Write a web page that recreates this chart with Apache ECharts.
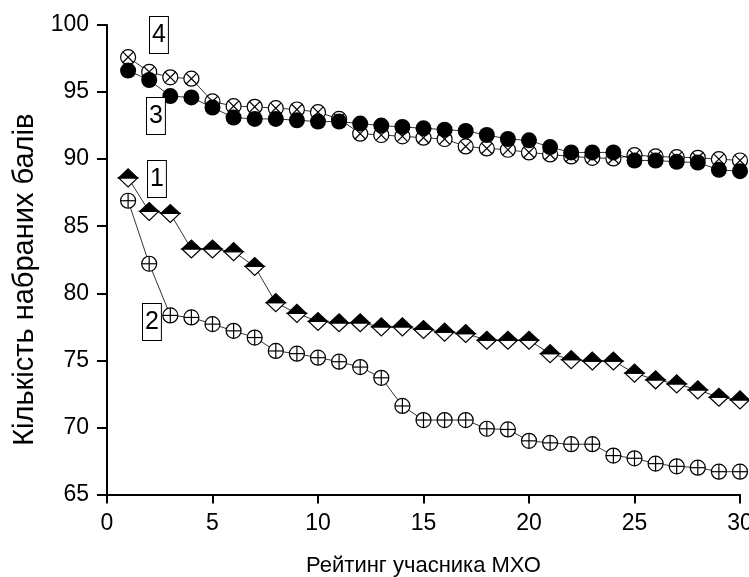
<!DOCTYPE html>
<html>
<head>
<meta charset="utf-8">
<script src="https://cdn.jsdelivr.net/npm/echarts@6/dist/echarts.min.js"></script>
<style>
  html, body { margin: 0; padding: 0; background: #fff; }
  #chart { width: 749px; height: 577px; }
</style>
</head>
<body>
<div id="chart"></div>
<script type="text/javascript">
  // ranks of participants (x axis)
  var ranks = [];
  for (var i = 1; i <= 30; i++) ranks.push(i);

  var xTicks = [0, 5, 10, 15, 20, 25, 30];
  var yTicks = [65, 70, 75, 80, 85, 90, 95, 100];

  // curve 1 - half filled diamonds
  var curve1 = [88.6, 86.1, 85.95, 83.3, 83.3, 83.1, 82.0, 79.3, 78.5, 77.9,
    77.8, 77.8, 77.5, 77.5, 77.3, 77.1, 77.0, 76.5, 76.5, 76.5,
    75.5, 75.05, 74.95, 74.95, 74.05, 73.55, 73.25, 72.8, 72.25, 72.05];
  // curve 2 - circles with plus
  var curve2 = [86.9, 82.2, 78.35, 78.2, 77.7, 77.2, 76.7, 75.7, 75.5, 75.2,
    74.9, 74.5, 73.7, 71.6, 70.55, 70.55, 70.55, 69.9, 69.85, 69.0,
    68.85, 68.75, 68.75, 67.9, 67.7, 67.3, 67.1, 67.0, 66.7, 66.7];
  // curve 3 - filled circles
  var curve3 = [96.6, 95.9, 94.7, 94.6, 93.85, 93.1, 93.0, 93.0, 92.9, 92.8,
    92.8, 92.65, 92.5, 92.4, 92.3, 92.2, 92.1, 91.8, 91.5, 91.4,
    90.9, 90.5, 90.5, 90.5, 89.9, 89.9, 89.8, 89.75, 89.2, 89.1];
  // curve 4 - circles with cross
  var curve4 = [97.6, 96.5, 96.1, 96.0, 94.3, 93.95, 93.9, 93.8, 93.7, 93.5,
    93.0, 91.9, 91.8, 91.7, 91.6, 91.5, 90.95, 90.8, 90.7, 90.5,
    90.35, 90.2, 90.1, 90.05, 90.3, 90.2, 90.15, 90.1, 90.0, 89.9];

  var FONT = '"Liberation Sans", Arial, sans-serif';

  function pairs(vals) {
    return ranks.map(function (r, k) { return [r, vals[k]]; });
  }

  function lineSeries(vals) {
    return {
      type: 'line',
      data: pairs(vals),
      symbol: 'none',
      lineStyle: { color: '#000', width: 0.8 },
      z: 1,
      silent: true
    };
  }

  var stroke = { stroke: '#000', lineWidth: 1.2 };

  function markerSeries(vals, kind) {
    return {
      type: 'custom',
      data: pairs(vals),
      encode: { x: 0, y: 1 },
      clip: false,
      z: 3,
      silent: true,
      renderItem: function (params, api) {
        var p = api.coord([api.value(0), api.value(1)]);
        var cx = p[0], cy = p[1];
        var r = 7.5, d = r * 0.707, h = 9.5, v = 9;
        if (kind === 'filled') {
          return { type: 'circle', shape: { cx: cx, cy: cy, r: 8 }, style: { fill: '#000' } };
        }
        if (kind === 'cross') {
          return {
            type: 'group',
            children: [
              { type: 'circle', shape: { cx: cx, cy: cy, r: r }, style: { fill: '#fff', stroke: '#000', lineWidth: 1.2 } },
              { type: 'line', shape: { x1: cx - d, y1: cy - d, x2: cx + d, y2: cy + d }, style: stroke },
              { type: 'line', shape: { x1: cx - d, y1: cy + d, x2: cx + d, y2: cy - d }, style: stroke }
            ]
          };
        }
        if (kind === 'plus') {
          return {
            type: 'group',
            children: [
              { type: 'circle', shape: { cx: cx, cy: cy, r: r }, style: { fill: '#fff', stroke: '#000', lineWidth: 1.2 } },
              { type: 'line', shape: { x1: cx - r, y1: cy, x2: cx + r, y2: cy }, style: stroke },
              { type: 'line', shape: { x1: cx, y1: cy - r, x2: cx, y2: cy + r }, style: stroke }
            ]
          };
        }
        // half filled diamond
        return {
          type: 'group',
          children: [
            { type: 'polygon', shape: { points: [[cx - h, cy], [cx + h, cy], [cx, cy + v]] }, style: { fill: '#fff', stroke: '#000', lineWidth: 1.2 } },
            { type: 'polygon', shape: { points: [[cx - h, cy], [cx, cy - v], [cx + h, cy]] }, style: { fill: '#000', stroke: '#000', lineWidth: 1.2 } }
          ]
        };
      }
    };
  }

  function boxLabel(txt, left, top) {
    return {
      type: 'text',
      left: left,
      top: top,
      z: 10,
      style: {
        text: txt,
        font: '25px ' + FONT,
        fill: '#000',
        lineHeight: 29,
        backgroundColor: '#fff',
        borderColor: '#000',
        borderWidth: 1,
        padding: [4, 2, 3, 2]
      }
    };
  }

  var myChart = echarts.init(document.getElementById('chart'), null, { renderer: 'canvas' });

  var option = {
    backgroundColor: '#fff',
    animation: false,
    grid: { left: 107, right: 9, top: 25, bottom: 82.5, containLabel: false, outerBoundsMode: 'none' },
    xAxis: {
      type: 'value',
      min: xTicks[0],
      max: xTicks[xTicks.length - 1],
      interval: 5,
      name: 'Рейтинг учасника МХО',
      nameLocation: 'middle',
      nameGap: 60,
      nameTextStyle: { fontFamily: FONT, fontSize: 22, color: '#000' },
      axisLine: { show: true, onZero: false, lineStyle: { color: '#000', width: 2 } },
      axisTick: { show: true, inside: false, length: 9, lineStyle: { color: '#000', width: 2 } },
      axisLabel: { fontFamily: FONT, fontSize: 23, color: '#000', margin: 18 },
      splitLine: { show: false }
    },
    yAxis: {
      type: 'value',
      min: yTicks[0],
      max: yTicks[yTicks.length - 1],
      interval: 5,
      name: 'Кількість набраних балів',
      nameLocation: 'middle',
      nameGap: 67,
      nameTextStyle: { fontFamily: FONT, fontSize: 29, color: '#000', padding: [0, 40, 0, 0] },
      axisLine: { show: true, onZero: false, lineStyle: { color: '#000', width: 2 } },
      axisTick: { show: true, inside: false, length: 10, lineStyle: { color: '#000', width: 2 } },
      axisLabel: { fontFamily: FONT, fontSize: 23, color: '#000', margin: 18 },
      splitLine: { show: false }
    },
    graphic: [
      boxLabel('4', 149, 16),
      boxLabel('3', 146, 97),
      boxLabel('1', 147, 160),
      boxLabel('2', 142, 303)
    ],
    series: [
      lineSeries(curve1),
      lineSeries(curve2),
      lineSeries(curve4),
      lineSeries(curve3),
      markerSeries(curve1, 'diamond'),
      markerSeries(curve2, 'plus'),
      markerSeries(curve4, 'cross'),
      markerSeries(curve3, 'filled')
    ]
  };

  myChart.setOption(option);

  window.onresize = function () {
    myChart.resize();
  };
</script>
</body>
</html>
